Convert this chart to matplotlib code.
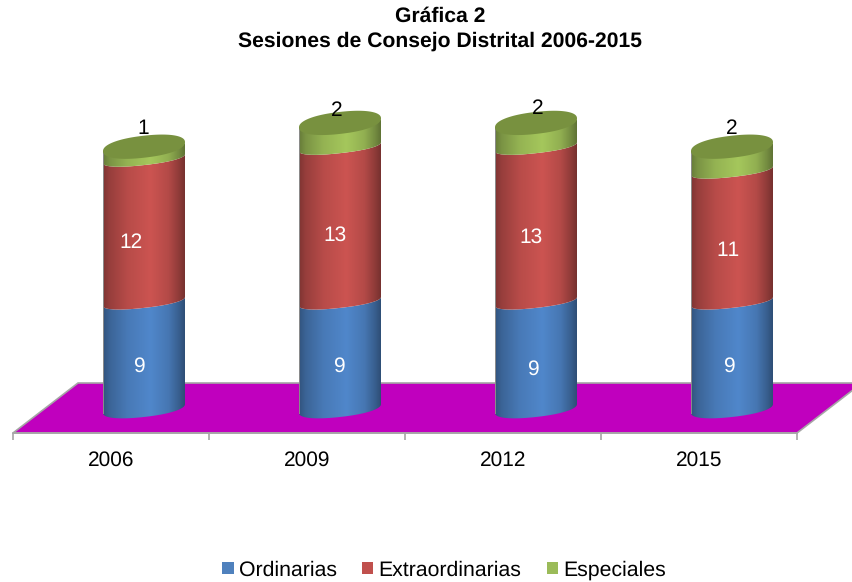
import numpy as np
import matplotlib
matplotlib.use("Agg")
import matplotlib.pyplot as plt
from matplotlib.patches import Patch, PathPatch, Polygon
from matplotlib.path import Path

plt.rcParams['font.family'] = ['Liberation Sans', 'DejaVu Sans']
plt.rcParams['text.hinting'] = 'no_hinting'
plt.rcParams['text.kerning_factor'] = 6

years = ['2006', '2009', '2012', '2015']
ordinarias = [9, 9, 9, 9]
extraordinarias = [12, 13, 13, 11]
especiales = [1, 2, 2, 2]

series = [ordinarias, extraordinarias, especiales]
names = ['Ordinarias', 'Extraordinarias', 'Especiales']
mid_colors = ['#5087CB', '#CC5451', '#A5C75C']
legend_colors = ['#4F81BD', '#C0504D', '#9BBB59']
top_color = '#78913F'

# pixels per data unit, the axes are laid out to match the picture
PX_X = 196.0
PX_Y = 11.9
DEPTH_X = 65 / PX_X
DEPTH_Y = 50 / PX_Y
SHIFT = 33 / PX_X
A = 41 / PX_X
B_BOTTOM = 8.5 / PX_Y
B_MID = 6.5 / PX_Y
B_CAP = 11 / PX_Y
SHEAR = 4.5 / PX_Y
BLUNT = 0.9
FLOOR = -20 / PX_Y

# hand placed label nudges in pixels (dx, dy up)
nudges = [
    [(-5, -11), (-1, -11), (-3, -14), (-3, -11)],
    [(-13, -13), (-5, -11), (-5, -13), (-4, -15)],
    [(-1, 24), (-3, 24), (2, 26), (0, 30)],
]
label_colors = ['white', 'white', 'black']


def arc(cx, y, t, b):
    ux = np.sign(np.cos(t)) * np.abs(np.cos(t)) ** BLUNT
    uy = np.sign(np.sin(t)) * np.abs(np.sin(t)) ** BLUNT
    return np.column_stack([cx + A * ux, y + SHEAR + b * uy + SHEAR * ux])


def shade(hex_color):
    rgb = np.array(matplotlib.colors.to_rgb(hex_color))
    pos = np.linspace(0, 1, 200)
    k = np.interp(pos, [0, 0.08, 0.3, 0.58, 0.8, 0.93, 1], [0.62, 0.74, 0.9, 1, 0.88, 0.7, 0.58])
    return (rgb * k[:, None])[None, :, :]


fig = plt.figure(figsize=(8.52, 5.82), dpi=100)
ax = fig.add_axes([13 / 852, (582 - 433) / 582, 784 / 852, 333 / 582])
ax.patch.set_visible(False)

xmin, xmax = -0.5, 3.5
floor = Polygon([(xmin, FLOOR), (xmax, FLOOR), (xmax + DEPTH_X, FLOOR + DEPTH_Y), (xmin + DEPTH_X, FLOOR + DEPTH_Y)],
                closed=True, facecolor='#C000BE', edgecolor='#A6A6A6', linewidth=1.2, clip_on=False, zorder=1)
ax.add_patch(floor)

low = np.linspace(np.pi, 2 * np.pi, 80)
full = np.linspace(0, 2 * np.pi, 160)

for i in range(len(years)):
    cx = i + SHIFT
    base = 0
    for s, values in enumerate(series):
        top = base + values[i]
        lower_b = B_BOTTOM if s == 0 else B_MID
        upper_b = B_MID
        pts = np.vstack([arc(cx, base, low, lower_b), arc(cx, top, low[::-1], upper_b)])
        body = PathPatch(Path(np.vstack([pts, pts[:1]])), facecolor='none', edgecolor='none', zorder=3)
        ax.add_patch(body)
        im = ax.imshow(shade(mid_colors[s]), extent=[cx - A, cx + A, base - 2, top + 2],
                       aspect='auto', zorder=3 + s * 0.1)
        im.set_clip_path(body)
        dx, dy = nudges[s][i]
        ax.annotate(str(values[i]), xy=(cx, (base + top) / 2 + SHEAR), xytext=(dx * 0.72, dy * 0.72),
                    textcoords='offset points', ha='center', va='center', fontsize=15,
                    color=label_colors[s], zorder=6, annotation_clip=False)
        base = top
    cap = arc(cx, base, full, B_CAP)
    ax.add_patch(Polygon(cap, closed=True, facecolor=top_color, edgecolor='none', zorder=4, clip_on=False))
    ax.plot([cx - A, cx - A], [0, base], color='#8C8C8C', linewidth=0.7, zorder=3.5, clip_on=False)

ax.set_xlim(xmin, xmax)
ax.set_ylim(FLOOR, 313 / PX_Y)
for side in ['top', 'left', 'right']:
    ax.spines[side].set_visible(False)
ax.spines['bottom'].set_color('#A6A6A6')
ax.spines['bottom'].set_linewidth(1.2)
ax.set_yticks([])
ax.set_xticks(range(len(years)))
ax.set_xticklabels(years, fontsize=15)
ax.set_xticks(np.arange(xmin, xmax + 1), minor=True)
ax.tick_params(axis='x', which='major', length=0, pad=13)
ax.tick_params(axis='x', which='minor', length=5, width=1.2, color='#A6A6A6')

fig.text(440 / 852, 1 - 29 / 582, 'Gráfica 2\nSesiones de Consejo Distrital 2006-2015', ha='center', va='center',
         fontsize=15.2, fontweight='bold', linespacing=1.33)

handles = [Patch(facecolor=c, edgecolor='none', label=n) for c, n in zip(legend_colors, names)]
fig.legend(handles=handles, loc='center', bbox_to_anchor=(444 / 852, 1 - 570 / 582), ncol=3, frameon=False,
           fontsize=15.3, handlelength=0.52, handleheight=0.52, handletextpad=0.24, columnspacing=1.2,
           borderpad=0, borderaxespad=0)

fig.savefig('out.png', dpi=100)
